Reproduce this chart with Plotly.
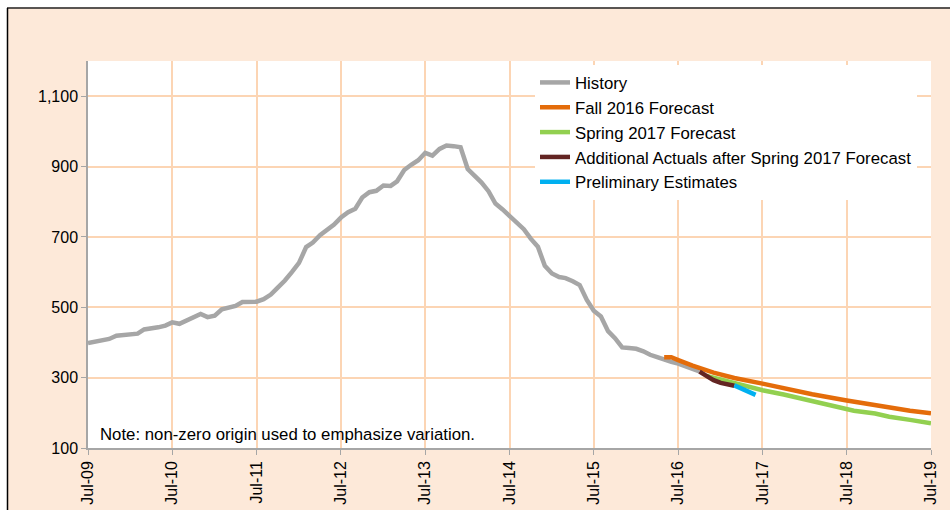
import pandas as pd
import plotly.graph_objects as go

# History, monthly from Jul-09
history_start = "2009-07-01"
history = [
    398, 402, 406, 410, 419, 421, 422, 425, 437, 439, 443, 448,
    457, 453, 463, 472, 481, 472, 476, 494, 498, 504, 515, 516,
    516, 523, 536, 556, 576, 600, 626, 671, 684, 705, 718, 735,
    755, 770, 780, 812, 827, 831, 846, 845, 858, 890, 905, 918,
    939, 931, 950, 960, 958, 955, 893, 875, 855, 830, 795, 778,
    760, 738, 722, 695, 672, 618, 596, 586, 583, 574, 563, 521,
    490, 474, 432, 412, 386, 384, 382, 375, 365, 358, 350, 345,
    340, 334, 325, 318,
]

fall_dates = ["2016-05-01", "2016-06-01", "2016-07-01", "2016-09-01", "2016-12-01",
              "2017-03-01", "2017-07-01", "2017-10-01", "2018-02-01", "2018-07-01",
              "2018-09-01", "2019-02-01", "2019-04-01", "2019-07-01"]
fall_2016 = [358, 358, 350, 334, 314, 299, 283, 270, 253, 235, 228, 213, 206, 199]

spring_dates = ["2016-11-01", "2016-12-01", "2017-03-01", "2017-07-01", "2017-10-01",
                "2018-02-01", "2018-07-01", "2018-08-01", "2018-11-01", "2019-01-01",
                "2019-04-01", "2019-07-01"]
spring_2017 = [305, 300, 283, 264, 252, 233, 211, 206, 198, 189, 180, 170]

actual_dates = ["2016-10-01", "2016-11-01", "2016-12-01", "2017-01-01", "2017-02-01", "2017-03-01"]
additional_actuals = [317, 304, 293, 285, 281, 277]

prelim_dates = ["2017-03-01", "2017-04-01", "2017-05-01", "2017-06-01"]
preliminary = [278, 270, 261, 251]

y_ticks = [100, 300, 500, 700, 900, 1100]
x_ticks = ["2009-07-01", "2010-07-01", "2011-07-01", "2012-07-01", "2013-07-01", "2014-07-01",
           "2015-07-01", "2016-07-01", "2017-07-01", "2018-07-01", "2019-07-01"]
x_labels = ["Jul-09", "Jul-10", "Jul-11", "Jul-12", "Jul-13", "Jul-14",
            "Jul-15", "Jul-16", "Jul-17", "Jul-18", "Jul-19"]

history_dates = pd.date_range(history_start, periods=len(history), freq="MS")

FONT = "Arial, Liberation Sans, sans-serif"
PEACH = "#FDE9D9"
GRID = "#FCD5B4"
AXIS = "#A6A6A6"

fig = go.Figure()
series = [
    ("History", history_dates, history, "#A6A6A6"),
    ("Fall 2016 Forecast", fall_dates, fall_2016, "#E46C0A"),
    ("Spring 2017 Forecast", spring_dates, spring_2017, "#92D050"),
    ("Additional Actuals after Spring 2017 Forecast", actual_dates, additional_actuals, "#632523"),
    ("Preliminary Estimates", prelim_dates, preliminary, "#00B0F0"),
]
for name, xs, ys, color in series:
    fig.add_trace(go.Scatter(x=xs, y=ys, name=name, legendgroup=name, mode="lines",
                             line=dict(color=color, width=4.5)))

W, H = 950, 510
L, R, T, B = 88, 931, 61, 448
def px(x):
    return (x - L) / (R - L)
def py(y):
    return (B - y) / (B - T)

# white strip outside the chart frame, plus the frame's left/top border
shapes = [
    dict(type="rect", xref="paper", yref="paper", x0=px(-5), x1=px(W + 5), y0=py(7.5), y1=py(-5),
         fillcolor="white", line=dict(width=0), layer="above"),
    dict(type="rect", xref="paper", yref="paper", x0=px(-5), x1=px(7), y0=py(H + 5), y1=py(-5),
         fillcolor="white", line=dict(width=0), layer="above"),
    dict(type="line", xref="paper", yref="paper", x0=px(7), x1=px(W + 5), y0=py(8), y1=py(8),
         line=dict(color="#222222", width=1.5), layer="above"),
    dict(type="line", xref="paper", yref="paper", x0=px(7.5), x1=px(7.5), y0=py(8), y1=py(H + 5),
         line=dict(color="#000000", width=1.5), layer="above"),
]

fig.update_layout(
    width=W, height=H,
    margin=dict(l=L, r=W - R, t=T, b=H - B),
    paper_bgcolor=PEACH, plot_bgcolor="white",
    font=dict(family=FONT, size=16, color="#000000"),
    showlegend=True,
    legend=dict(
        x=px(535), y=py(65), xanchor="left", yanchor="top",
        bgcolor="white", borderwidth=0, traceorder="grouped",
        tracegroupgap=0, font=dict(size=16.8, family=FONT),
    ),
    shapes=shapes,
    annotations=[dict(
        text="Note: non-zero origin used to emphasize variation.",
        xref="paper", yref="paper", x=px(98), y=py(434), xanchor="left", yanchor="middle",
        showarrow=False, font=dict(size=16.8, family=FONT),
    )],
)
fig.update_xaxes(
    type="date", range=["2009-07-01", "2019-07-01"], automargin=False,
    tickvals=x_ticks, ticktext=x_labels, tickangle=-90,
    showgrid=True, gridcolor=GRID, gridwidth=1.5,
    showline=True, linecolor=AXIS, linewidth=1.5,
    ticks="outside", ticklen=5, tickcolor=AXIS, tickfont=dict(size=16),
)
fig.update_yaxes(
    range=[100, 1200], tickvals=y_ticks, tickformat=",", automargin=False,
    showgrid=True, gridcolor=GRID, gridwidth=1.5, zeroline=False,
    showline=True, linecolor=AXIS, linewidth=1.5,
    ticks="outside", ticklen=5, tickcolor=AXIS, tickfont=dict(size=16),
)

# drop the browser's default body margin so the figure fills the window
fig.write_html("out.html", config={"displayModeBar": False},
               post_script="document.body.style.margin = '0';")
